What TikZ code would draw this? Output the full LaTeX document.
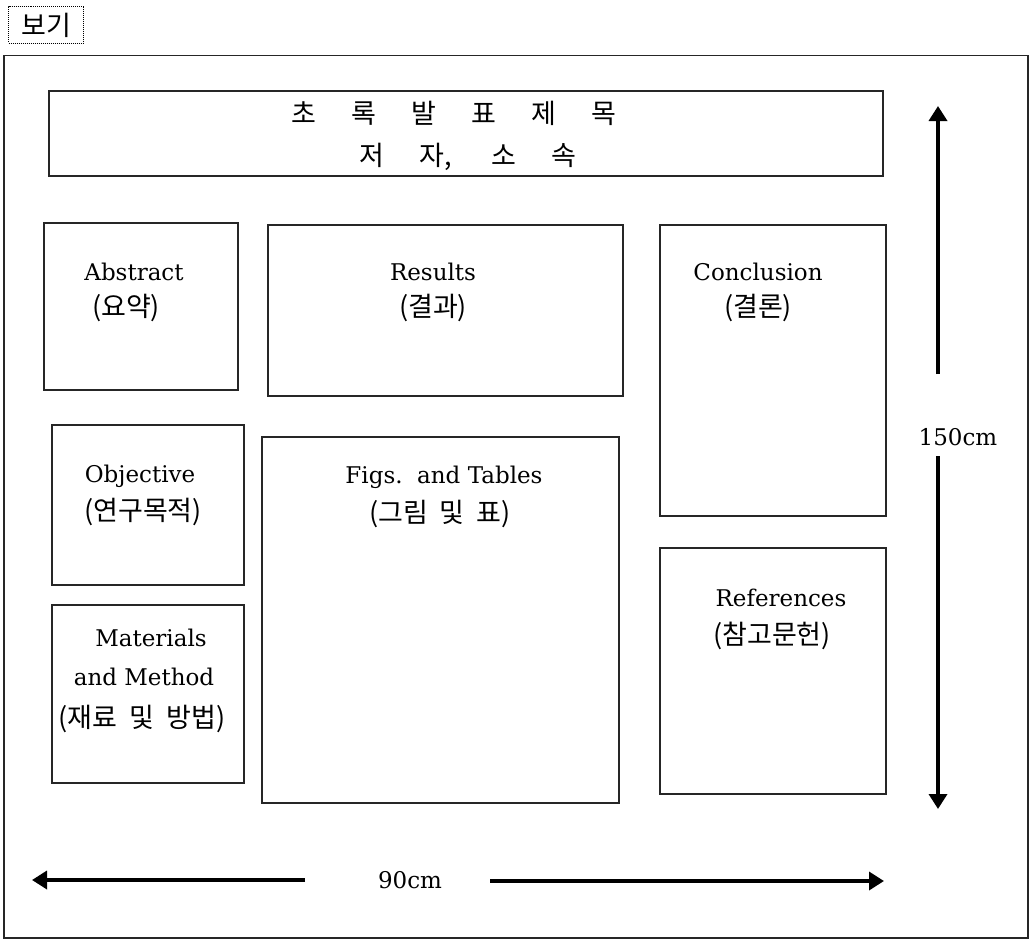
\documentclass[tikz,border=0pt]{standalone}
\usepackage{fontspec}
\setmainfont{DejaVu Serif}
\newfontfamily\kr{Noto Sans CJK KR}
\usetikzlibrary{arrows.meta}
\newcommand\tg{\hspace{35pt}}
\newcommand\ks{\hspace{0.45em}}
\tikzset{
  box/.style={draw=black!85, line width=1.5pt, anchor=north west, inner sep=0pt},
  txt/.style={inner sep=0pt, font=\fontsize{23}{28}\selectfont},
  ktxt/.style={inner sep=0pt, font=\fontsize{27}{32}\selectfont\kr},
  dim/.style={line width=3.5pt, -{Triangle[width=18pt,length=15pt]}}
}
\begin{document}
\begin{tikzpicture}[x=1pt,y=-1pt]
\useasboundingbox (0,0) rectangle (1032,939);
% label
\node[draw, densely dotted, line width=1pt, anchor=north west, minimum width=75pt, minimum height=37pt, inner sep=0pt] (lbl) at (8,6) {};
\node[ktxt] (lbltxt) at (lbl.center) {보기};
% outer frame
\node[box, minimum width=1024pt, minimum height=882pt] (frame) at (3,55) {};
% title
\node[box, line width=2pt, minimum width=834pt, minimum height=85pt] (title) at (48,90) {};
\node[ktxt] (t1) at (454,113) {초\tg 록\tg 발\tg 표\tg 제\tg 목};
\node[ktxt] (t2) at (468,157) {저\tg 자,\hspace{40pt}소\tg 속};
% abstract
\node[box, minimum width=194pt, minimum height=167pt] (abs) at (43,222) {};
\node[txt] (absA) at (134,272) {Abstract};
\node[ktxt] (absB) at (126,308) {(요약)};
% results
\node[box, minimum width=355pt, minimum height=171pt] (res) at (267,224) {};
\node[txt] (resA) at (433,272) {Results};
\node[ktxt] (resB) at (433,308) {(결과)};
% conclusion
\node[box, minimum width=226pt, minimum height=291pt] (con) at (659,224) {};
\node[txt] (conA) at (758,272) {Conclusion};
\node[ktxt] (conB) at (758,308) {(결론)};
% objective
\node[box, minimum width=192pt, minimum height=160pt] (obj) at (51,424) {};
\node[txt] (objA) at (140,476) {Objective};
\node[ktxt] (objB) at (143,512) {(연구목적)};
% figs
\node[box, minimum width=357pt, minimum height=366pt] (fig) at (261,436) {};
\node[txt] (figA) at (444,477) {Figs.\ \ and Tables};
\node[ktxt] (figB) at (440,514) {(그림\ks 및\ks 표)};
% materials
\node[box, minimum width=192pt, minimum height=178pt] (mat) at (51,604) {};
\node[txt] (matA) at (151,638) {Materials};
\node[txt] (matB) at (144,677) {and Method};
\node[ktxt] (matC) at (142,719) {(재료\ks 및\ks 방법)};
% references
\node[box, minimum width=226pt, minimum height=246pt] (ref) at (659,547) {};
\node[txt] (refA) at (781,598) {References};
\node[ktxt] (refB) at (772,636) {(참고문헌)};
% vertical dimension
\coordinate (vTop) at (938,106);
\coordinate (vA) at (938,374);
\node[txt] (vlab) at (958,437) {150cm};
\coordinate (vB) at (938,456);
\coordinate (vBot) at (938,809);
\draw[dim] (vA) -- (vTop);
\draw[dim] (vB) -- (vBot);
% horizontal dimension
\coordinate (hL) at (32,880);
\coordinate (hA) at (305,880);
\node[txt] (hlab) at (410,880) {90cm};
\coordinate (hB) at (490,881);
\coordinate (hR) at (884,881);
\draw[dim] (hA) -- (hL);
\draw[dim] (hB) -- (hR);
\end{tikzpicture}
\end{document}
